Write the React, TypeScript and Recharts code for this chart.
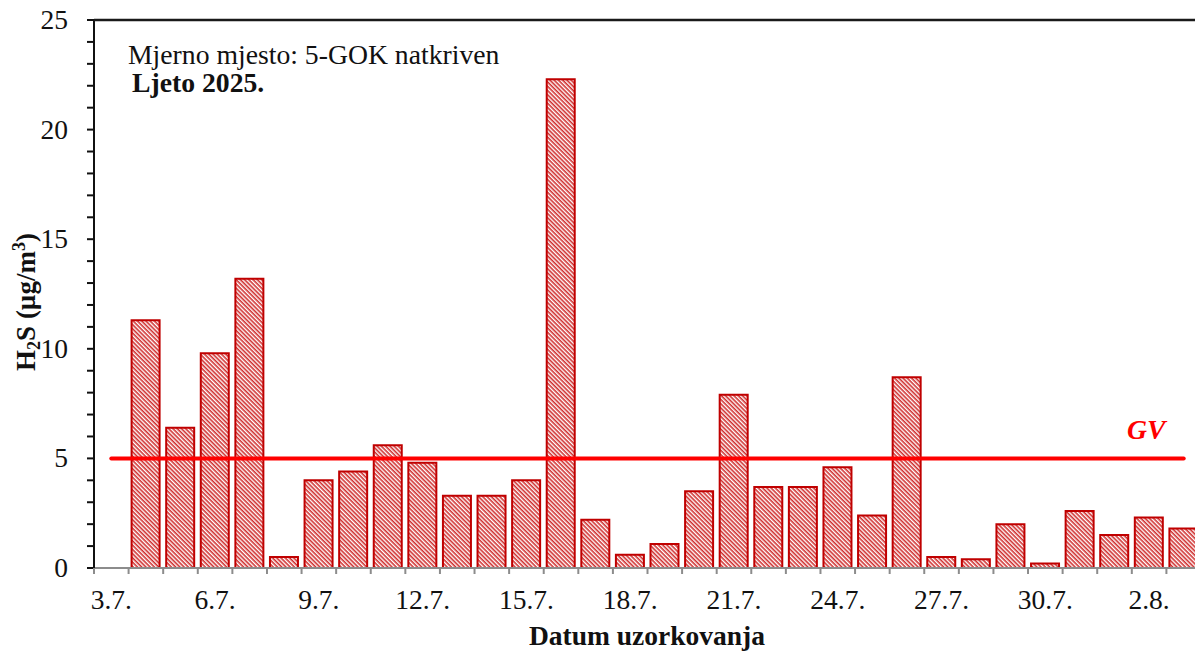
import React from 'react';
import {
    ComposedChart,
    Bar,
    Line,
    XAxis,
    YAxis,
} from 'recharts';

// sampling dates (first day has no measurement, it only opens the axis)
const dates = [
    '3.7.', '4.7.', '5.7.', '6.7.', '7.7.', '8.7.', '9.7.', '10.7.',
    '11.7.', '12.7.', '13.7.', '14.7.', '15.7.', '16.7.', '17.7.', '18.7.',
    '19.7.', '20.7.', '21.7.', '22.7.', '23.7.', '24.7.', '25.7.', '26.7.',
    '27.7.', '28.7.', '29.7.', '30.7.', '31.7.', '1.8.', '2.8.', '3.8.',
];

// H2S in ug/m3
const h2s: (number | null)[] = [
    null, 11.3, 6.4, 9.8, 13.2, 0.5, 4.0, 4.4,
    5.6, 4.8, 3.3, 3.3, 4.0, 22.3, 2.2, 0.6,
    1.1, 3.5, 7.9, 3.7, 3.7, 4.6, 2.4, 8.7,
    0.5, 0.4, 2.0, 0.2, 2.6, 1.5, 2.3, 1.8,
];

// granicna vrijednost
const GV = 5;

const yLabelTicks = [0, 5, 10, 15, 20, 25];
const yAllTicks = Array.from({ length: 26 }, (_, i) => i);

const data = dates.map((d, i) => ({ date: d, h2s: h2s[i], gv: GV }));

const W = 1203;
const H = 658;
const LEFT = 94;
const RIGHT = 2;
const TOP = 20;
const XH = 90;
const BAND = (W - LEFT - RIGHT) / dates.length;
const FONT = "'Liberation Serif', 'Times New Roman', serif";

const XTick = (props: any) => {
    const { x, y, index, payload } = props;
    const half = payload && payload.offset ? payload.offset : BAND / 2;
    return (
        <g>
            <line x1={x - half} x2={x - half} y1={y} y2={y + 6} stroke="#8c8c8c" strokeWidth={2} />
            {index % 3 === 0 && (
                <text x={x} y={y + 41} textAnchor="middle" fontFamily={FONT} fontSize={27.5} fill="#111">
                    {payload.value}
                </text>
            )}
        </g>
    );
};

const YTick = (props: any) => {
    const { x, y, payload } = props;
    if (!yLabelTicks.includes(payload.value)) return <g />;
    return (
        <text x={x} y={y + 9} textAnchor="end" fontFamily={FONT} fontSize={27.5} fill="#111">
            {payload.value}
        </text>
    );
};

export default function App() {
    return (
        <div style={{ position: 'relative', width: W, height: H, margin: '-8px 0 0 -8px' }}>
            <ComposedChart
                width={W}
                height={H}
                data={data}
                margin={{ top: TOP, right: RIGHT, left: 0, bottom: 0 }}
                barCategoryGap={0}
            >
                <defs>
                    <pattern id="hatch" patternUnits="userSpaceOnUse" width="3" height="3" patternTransform="rotate(45)">
                        <rect x="0" y="0" width="3" height="3" fill="#ffffff" />
                        <rect x="0" y="0" width="3" height="1.6" fill="#cf2f2f" />
                    </pattern>
                </defs>
                <XAxis
                    dataKey="date"
                    interval={0}
                    height={XH}
                    tickLine={false}
                    tickSize={0}
                    tickMargin={0}
                    axisLine={{ stroke: '#8c8c8c', strokeWidth: 2 }}
                    tick={<XTick />}
                />
                <YAxis
                    domain={[0, 25]}
                    ticks={yAllTicks}
                    interval={0}
                    width={LEFT}
                    tickSize={7}
                    tickMargin={19}
                    tickLine={{ stroke: '#111', strokeWidth: 2 }}
                    axisLine={{ stroke: '#111', strokeWidth: 2 }}
                    tick={<YTick />}
                    allowDataOverflow
                />
                <Bar
                    dataKey="h2s"
                    barSize={28}
                    fill="url(#hatch)"
                    stroke="#c00000"
                    strokeWidth={2}
                    isAnimationActive={false}
                />
                <Line
                    dataKey="gv"
                    type="linear"
                    stroke="#ff0000"
                    strokeWidth={4}
                    strokeLinecap="round"
                    dot={false}
                    activeDot={false}
                    isAnimationActive={false}
                />
            </ComposedChart>
            <svg
                width={W}
                height={H}
                style={{ position: 'absolute', left: 0, top: 0, pointerEvents: 'none' }}
            >
                {/* plot frame: top and right edges */}
                <line x1={LEFT} x2={W - RIGHT} y1={TOP} y2={TOP} stroke="#1a1a1a" strokeWidth={2.5} />
                <line x1={W - RIGHT} x2={W - RIGHT} y1={TOP} y2={H - XH} stroke="#1a1a1a" strokeWidth={2.5} />
                <text x={128} y={64} fontFamily={FONT} fontSize={27.7} fill="#111">
                    Mjerno mjesto: 5-GOK natkriven
                </text>
                <text x={132} y={92} fontFamily={FONT} fontSize={27.7} fontWeight="bold" fill="#111">
                    Ljeto 2025.
                </text>
                <text x={1127} y={439} fontFamily={FONT} fontSize={27.7} fontWeight="bold" fontStyle="italic" fill="#ff0000">
                    GV
                </text>
                <text x={647} y={645} textAnchor="middle" fontFamily={FONT} fontSize={27.5} fontWeight="bold" fill="#111">
                    Datum uzorkovanja
                </text>
                <text
                    transform="translate(35, 302) rotate(-90)"
                    textAnchor="middle"
                    fontFamily={FONT}
                    fontSize={27}
                    fontWeight="bold"
                    fill="#111"
                >
                    H<tspan fontSize={18} dy={5}>2</tspan>
                    <tspan dy={-5}>S (µg/m</tspan>
                    <tspan fontSize={18} dy={-10}>3</tspan>
                    <tspan dy={10}>)</tspan>
                </text>
            </svg>
        </div>
    );
}
